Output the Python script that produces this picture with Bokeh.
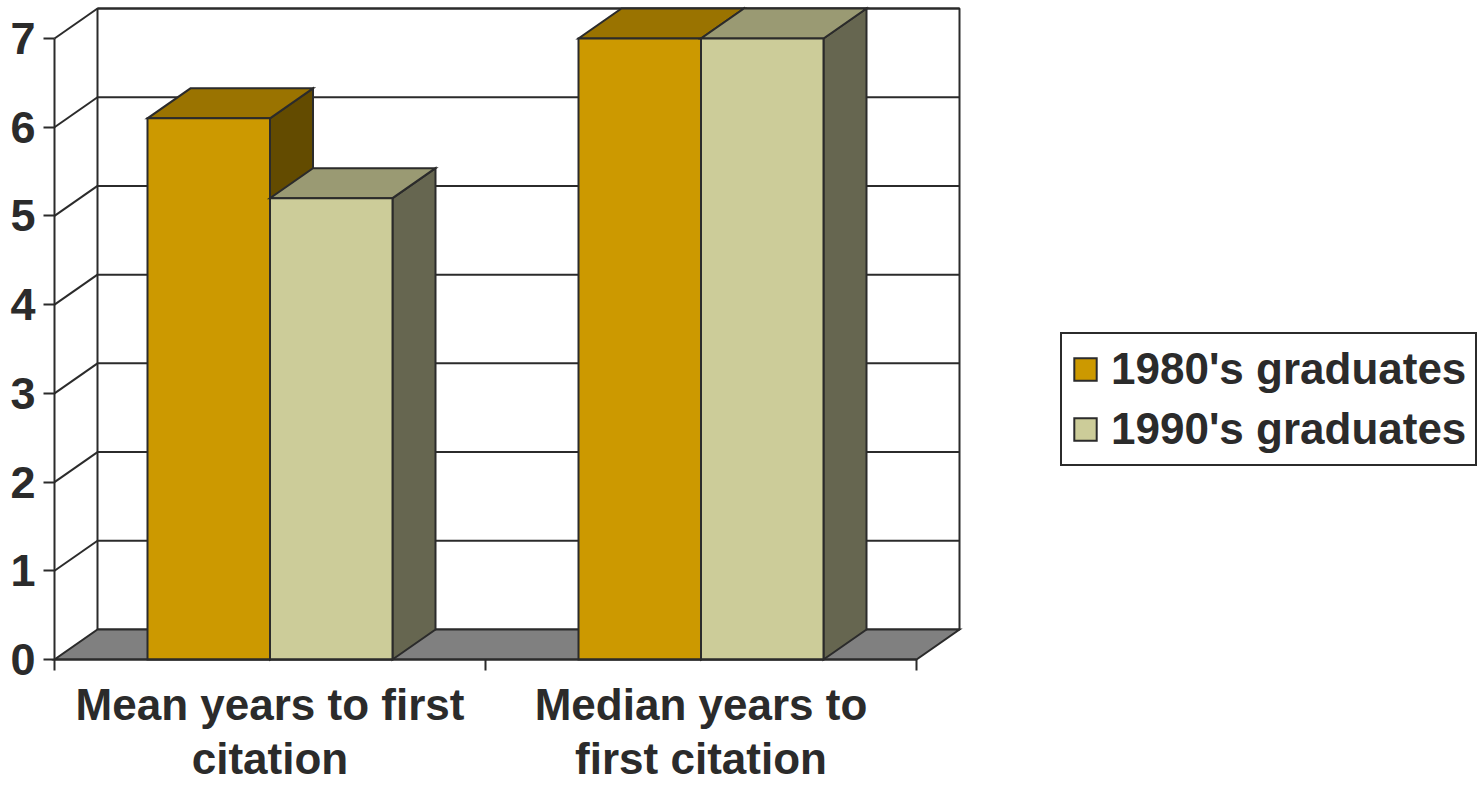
from bokeh.plotting import figure
from bokeh.models import Range1d, LinearAxis, FixedTicker, Legend, LegendItem
from bokeh.embed import file_html
from bokeh.resources import INLINE

# ---------------- data ----------------
categories = ["Mean years to first citation", "Median years to first citation"]
category_labels = ["Mean years to first\ncitation", "Median years to\nfirst citation"]
series_names = ["1980's graduates", "1990's graduates"]
values_1980s = [6.1, 7.0]
values_1990s = [5.2, 7.0]
y_ticks = [0, 1, 2, 3, 4, 5, 6, 7]

# ---------------- style ----------------
front_colors = ["#CC9900", "#CCCC99"]
top_colors = ["#9A7300", "#9A9A73"]
side_colors = ["#634B00", "#666650"]
FLOOR = "#808080"
EDGE = "#2b2b2b"
TEXT = "#2b2b2b"
FONT = "Liberation Sans"

W, H = 1479, 785
PX_X = 431.0      # pixels per category
PX_Y = 88.714     # pixels per unit of value
ORIGIN_X, ORIGIN_Y = 54, 659   # figure-pixel position of (0, 0), from top-left
DEPTH_PX_X, DEPTH_PX_Y = 43, 30
BAR_PX = 122.5

x_start = -ORIGIN_X / PX_X
x_end = (W - ORIGIN_X) / PX_X
y_end = ORIGIN_Y / PX_Y
y_start = -(H - ORIGIN_Y) / PX_Y
DX = DEPTH_PX_X / PX_X
DY = DEPTH_PX_Y / PX_Y
BAR_W = BAR_PX / PX_X
GAP = (1 - 2 * BAR_W) / 2

n_cat = len(categories)
y_max = y_ticks[-1]

p = figure(width=W, height=H, x_range=Range1d(x_start, x_end), y_range=Range1d(y_start, y_end),
           output_backend="svg", toolbar_location=None, min_border=0,
           outline_line_color=None, x_axis_type=None, y_axis_type=None,
           background_fill_color="white", border_fill_color="white")

# back wall
p.quad(left=DX, right=n_cat + DX, bottom=DY, top=y_max + DY, fill_color="white",
       line_color=EDGE, line_width=2)
# back-wall gridlines
p.multi_line(xs=[[DX, n_cat + DX] for _ in y_ticks[1:]],
             ys=[[t + DY, t + DY] for t in y_ticks[1:]], line_color=EDGE, line_width=2)
# left-side diagonals
p.multi_line(xs=[[0, DX] for _ in y_ticks[1:]],
             ys=[[t, t + DY] for t in y_ticks[1:]], line_color=EDGE, line_width=2)
# floor
p.patch([0, n_cat, n_cat + DX, DX], [0, 0, DY, DY], fill_color=FLOOR,
        line_color=EDGE, line_width=2, line_join="miter")

legend_renderers = []
for j, vals in enumerate([values_1980s, values_1990s]):
    x0 = [i + GAP + j * BAR_W for i in range(n_cat)]
    x1 = [a + BAR_W for a in x0]
    p.patches(xs=[[b, b + DX, b + DX, b] for b in x1],
              ys=[[0, DY, v + DY, v] for v in vals],
              fill_color=side_colors[j], line_color=EDGE, line_width=2, line_join="miter")
    p.patches(xs=[[a, b, b + DX, a + DX] for a, b in zip(x0, x1)],
              ys=[[v, v, v + DY, v + DY] for v in vals],
              fill_color=top_colors[j], line_color=EDGE, line_width=2, line_join="miter")
    r = p.quad(left=x0, right=x1, bottom=0, top=vals, fill_color=front_colors[j],
               line_color=EDGE, line_width=2, line_join="miter")
    legend_renderers.append(r)

# y axis
yaxis = LinearAxis(fixed_location=0, bounds=(0, y_max),
                   ticker=FixedTicker(ticks=y_ticks, minor_ticks=[]),
                   major_tick_out=11, major_tick_in=0, minor_tick_out=0, minor_tick_in=0,
                   major_label_standoff=8, axis_line_width=2, axis_line_color=EDGE,
                   major_tick_line_width=2, major_tick_line_color=EDGE,
                   major_label_text_font=FONT, major_label_text_font_size="45px",
                   major_label_text_font_style="bold", major_label_text_color=TEXT)
p.add_layout(yaxis, "left")

# x axis
centers = [i + 0.5 for i in range(n_cat)]
xaxis = LinearAxis(fixed_location=0, bounds=(0, n_cat),
                   ticker=FixedTicker(ticks=centers, minor_ticks=list(range(n_cat + 1))),
                   major_tick_out=0, major_tick_in=0, minor_tick_out=11, minor_tick_in=0,
                   minor_tick_line_width=2, minor_tick_line_color=EDGE,
                   axis_line_width=2, axis_line_color=EDGE,
                   major_label_overrides={c: lab for c, lab in zip(centers, category_labels)},
                   major_label_standoff=9,
                   major_label_text_font=FONT, major_label_text_font_size="44px",
                   major_label_text_font_style="bold", major_label_text_color=TEXT,
                   major_label_text_align="center", major_label_text_line_height=1.12)
p.add_layout(xaxis, "below")

legend = Legend(items=[LegendItem(label=name, renderers=[r]) for name, r in zip(series_names, legend_renderers)],
                location=(1060, 319), orientation="vertical",
                border_line_color=EDGE, border_line_width=2, border_line_alpha=1.0,
                background_fill_color="white", background_fill_alpha=1.0,
                label_text_font=FONT, label_text_font_size="44px", label_text_font_style="bold",
                label_text_color=TEXT, glyph_width=28, glyph_height=28, label_height=52,
                label_standoff=12, padding=9, spacing=8, margin=0)
p.add_layout(legend, "center")

open("out.html", "w").write(file_html(p, INLINE))
